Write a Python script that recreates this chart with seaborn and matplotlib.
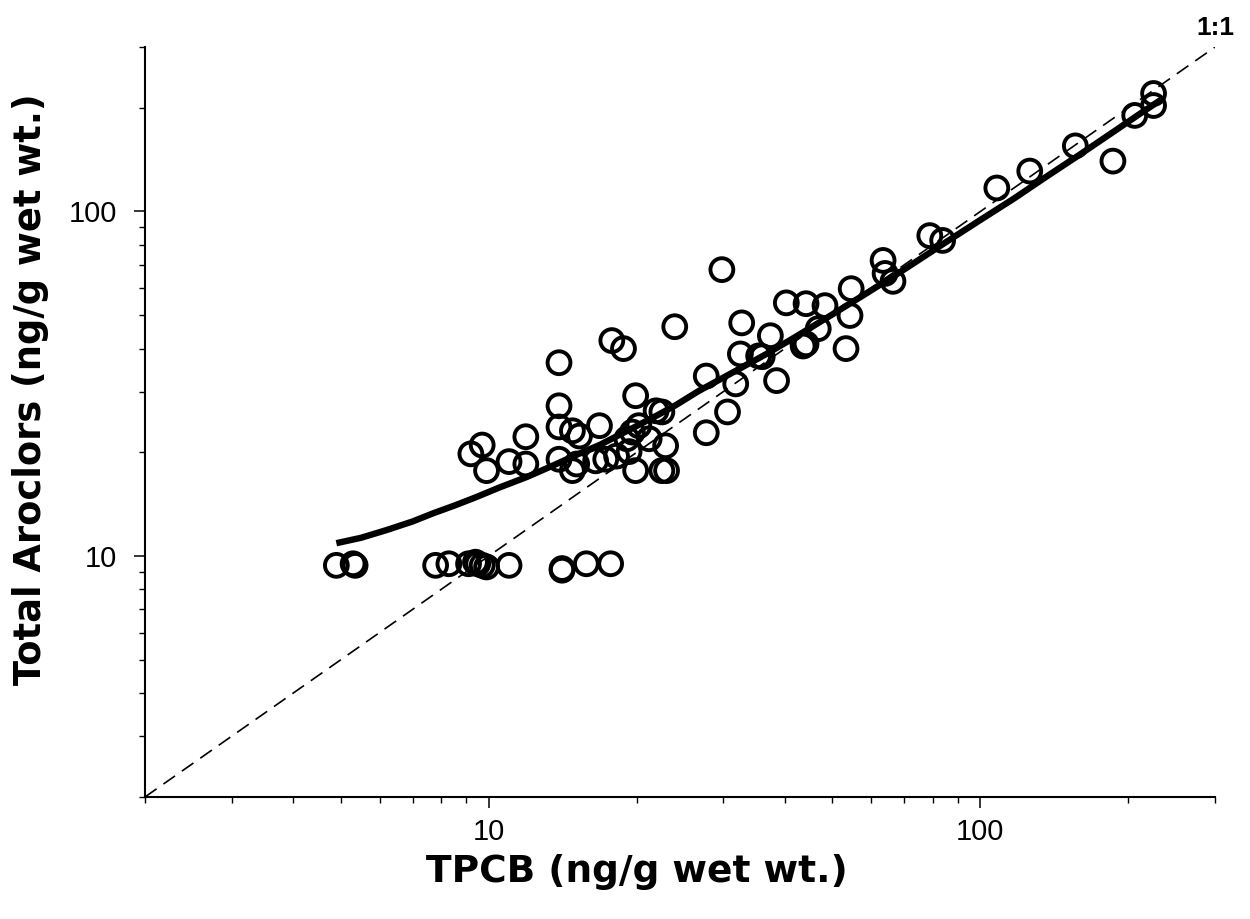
import numpy as np
import pandas as pd
import matplotlib
matplotlib.use("Agg")
import matplotlib.pyplot as plt
import matplotlib.ticker as mticker
import seaborn as sns

# TPCB vs total Aroclors (ng/g wet wt.)
tpcb = [4.9, 5.3, 5.35, 7.8, 8.3, 9.1, 9.4, 9.5, 9.7, 9.9, 11.0, 14.1, 14.1, 15.8, 17.7,
        13.9, 17.8, 18.8, 13.9, 19.9, 13.9, 14.8, 15.3, 16.8, 11.9, 9.7, 9.2, 9.9, 11.0,
        11.9, 13.9, 14.8, 15.1, 16.5, 17.3, 18.2, 19.1, 19.6, 20.2, 21.2, 19.9, 22.5, 21.9,
        22.9, 22.5, 23.0, 19.3, 23.9,
        29.8, 32.7, 40.3, 44.2, 48.3, 54.6, 63.4, 64.0, 66.4, 54.3, 53.3, 46.8, 43.6, 44.2,
        37.4, 35.4, 36.0, 32.5, 38.5, 27.7, 31.8, 30.6, 27.7,
        78.9, 83.8, 108, 126, 156, 186, 206, 225, 225]
aroclors = [9.4, 9.5, 9.4, 9.4, 9.5, 9.5, 9.6, 9.5, 9.4, 9.3, 9.4, 9.2, 9.1, 9.5, 9.5,
            36.4, 42.2, 40.0, 27.3, 29.2, 23.7, 23.1, 22.3, 23.9, 22.2, 21.0, 19.8, 17.7, 18.8,
            18.5, 19.1, 17.7, 18.5, 18.9, 19.1, 19.5, 21.9, 22.9, 23.9, 21.9, 17.7, 26.2, 26.4,
            20.9, 17.7, 17.7, 20.1, 46.3,
            67.8, 47.5, 54.3, 54.0, 53.3, 59.7, 72.1, 66.1, 62.7, 49.9, 40.0, 45.7, 40.7, 41.3,
            43.6, 38.1, 37.9, 38.6, 32.3, 33.3, 31.6, 26.2, 22.8,
            85.1, 82.4, 117, 131, 155, 140, 190, 220, 203]

# fitted curve
fit_x = [4.9, 5.5, 6.2, 7.0, 7.7, 8.5, 9.4, 10.5, 12.0, 13.5, 15.0, 16.8, 19.6, 22.0,
         24.0, 26.7, 31.0, 36.6, 42.0, 49.7, 58.0, 67.9, 85.7, 100, 117, 136, 159, 185, 211, 233]
fit_y = [10.9, 11.3, 11.9, 12.6, 13.3, 14.0, 14.8, 15.8, 17.0, 18.3, 19.6, 21.0, 23.5, 25.6,
         27.4, 30.1, 33.8, 38.5, 43.2, 50.0, 57.3, 66.0, 82.0, 94.5, 109, 126, 146, 169, 192, 211]

one_to_one = [2, 300]

df = pd.DataFrame({"TPCB": tpcb, "Aroclors": aroclors})
fit = pd.DataFrame({"x": fit_x, "y": fit_y})

sns.set_theme(style="ticks")
plt.rcParams["font.family"] = ["Liberation Sans", "DejaVu Sans"]
plt.rcParams["text.color"] = "black"

fig = plt.figure(figsize=(12.5, 9.19), dpi=100)
ax = fig.add_axes([0.116, 0.1328, 0.856, 0.816])

ax.plot(one_to_one, one_to_one, color="black", lw=1.2, linestyle=(0, (8.5, 5)), zorder=1)

sns.scatterplot(data=df, x="TPCB", y="Aroclors", ax=ax, marker="o", s=270,
                color="black", linewidth=2.8, zorder=3, legend=False)
coll = ax.collections[-1]
coll.set_facecolor("none")
coll.set_edgecolor("black")

sns.lineplot(data=fit, x="x", y="y", ax=ax, color="black", lw=4.6, estimator=None,
             sort=False, zorder=4)
ax.lines[-1].set_solid_capstyle("butt")

ax.set_xscale("log")
ax.set_yscale("log")
ax.set_xlim(2, 300)
ax.set_ylim(2, 300)

for axis in (ax.xaxis, ax.yaxis):
    axis.set_major_locator(mticker.FixedLocator([10, 100]))
    axis.set_major_formatter(mticker.FuncFormatter(lambda v, p: f"{v:g}"))
    axis.set_minor_locator(mticker.LogLocator(base=10, subs=np.arange(2, 10), numticks=20))
    axis.set_minor_formatter(mticker.NullFormatter())

ax.tick_params(which="major", length=8, width=1.1, direction="out", labelsize=21,
               colors="black", labelcolor="black")
ax.tick_params(which="minor", length=4.3, width=1.0, direction="out", colors="black")
ax.tick_params(axis="x", which="major", pad=7)
ax.tick_params(axis="y", which="major", pad=12)

sns.despine(ax=ax)
for sp in ("left", "bottom"):
    ax.spines[sp].set_linewidth(1.5)
    ax.spines[sp].set_color("black")

ax.set_xlabel("")
ax.set_ylabel("")

ax.text(300, 340, "1:1", ha="center", va="center", fontsize=19, fontweight="bold",
        color="black", clip_on=False)

fig.text(637 / 1250, 1 - 872 / 919, "TPCB (ng/g wet wt.)", ha="center", va="center",
         fontsize=27, fontweight="bold", family="DejaVu Sans", color="black")
fig.text(31 / 1250, 1 - 389 / 919, "Total Aroclors (ng/g wet wt.)", ha="center", va="center",
         rotation=90, fontsize=26.5, fontweight="bold", family="DejaVu Sans", color="black")

fig.savefig("out.png", dpi=100, facecolor="white")
